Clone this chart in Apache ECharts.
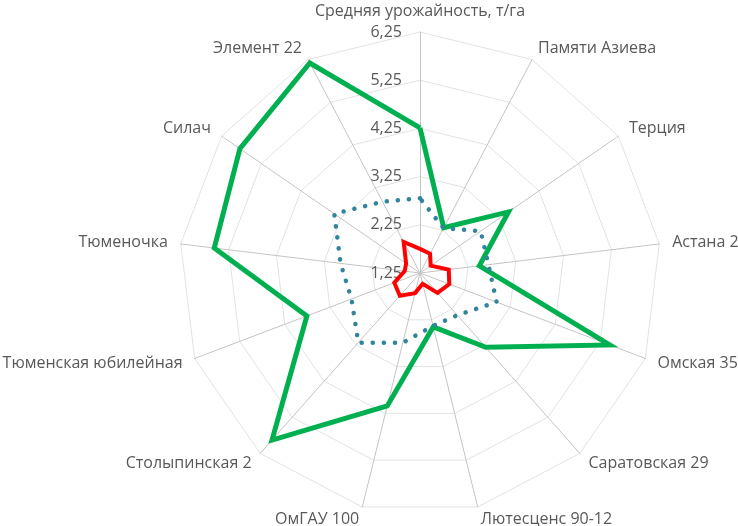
<!DOCTYPE html>
<html>
<head>
<meta charset="utf-8">
<script src="https://cdn.jsdelivr.net/npm/echarts@6/dist/echarts.min.js"></script>
<style>html,body{margin:0;padding:0;background:#fff;}#c{width:738px;height:526px;}</style>
</head>
<body>
<div id="c"></div>
<script>
// Indicators, clockwise from top
var categories = ['Средняя урожайность, т/га','Памяти Азиева','Терция','Астана 2','Омская 35','Саратовская 29','Лютесценс 90-12','ОмГАУ 100','Столыпинская 2','Тюменская юбилейная','Тюменочка','Силач','Элемент 22'];
var greenValues = [4.26, 2.31, 3.48, 2.49, 5.46, 3.31, 2.40, 4.09, 5.88, 3.76, 5.55, 5.79, 6.17];
var blueValues  = [2.80, 2.30, 2.78, 2.68, 2.95, 2.42, 2.38, 2.74, 3.18, 2.77, 2.91, 3.41, 2.92];
var redValues   = [1.75, 1.70, 1.52, 1.85, 1.90, 1.80, 1.48, 1.68, 1.88, 1.82, 1.57, 1.60, 1.98];
var axisMin = 1.25, axisMax = 6.25, axisSplits = 5;

// ECharts radar runs counter-clockwise: reorder so it reads clockwise
var order = [0];
for (var i = categories.length - 1; i >= 1; i--) order.push(i);
function reorder(a){ return order.map(function(k){ return a[k]; }); }

var FONT = '"Open Sans", "Noto Sans", sans-serif';
var indicators = reorder(categories).map(function(n, idx){
  var o = {name: n, min: axisMin, max: axisMax};
  if (idx === 0) o.axisLabel = {show: true};
  return o;
});

var chart = echarts.init(document.getElementById('c'));
chart.setOption({
  animation: false,
  radar: {
    center: [420, 273],
    radius: 241,
    startAngle: 90,
    splitNumber: axisSplits,
    shape: 'polygon',
    indicator: indicators,
    axisName: {color: '#595959', fontSize: 16, fontFamily: FONT},
    nameGap: 13,
    axisLine: {lineStyle: {color: '#c4c4c4', width: 1}},
    splitLine: {lineStyle: {color: '#e2e2e2', width: 1}},
    splitArea: {show: false},
    axisTick: {show: false},
    axisLabel: {show: false, color: '#595959', fontSize: 16, fontFamily: FONT, margin: 18,
      formatter: function(v){ return v.toFixed(2).replace('.', ','); }}
  },
  series: [{
    type: 'radar',
    symbol: 'none',
    silent: true,
    data: [
      {value: reorder(greenValues), lineStyle: {color: '#00b050', width: 5, join: 'miter'}},
      {value: reorder(blueValues), lineStyle: {color: '#31849b', width: 4.5, type: [0.1, 11], cap: 'round'}},
      {value: reorder(redValues), lineStyle: {color: '#ff0000', width: 4, join: 'miter'}}
    ]
  }]
});
</script>
</body>
</html>
